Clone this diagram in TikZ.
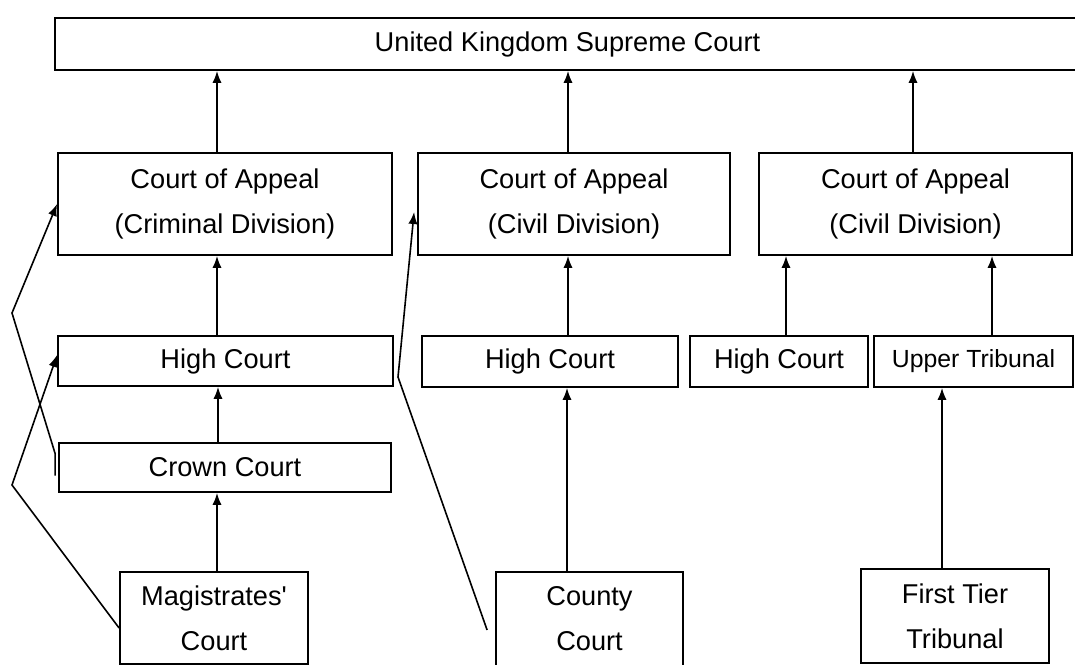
\documentclass[tikz,border=0pt]{standalone}
\usepackage{fontspec}
\setmainfont{Liberation Sans}
\usetikzlibrary{arrows.meta}
\begin{document}
\begin{tikzpicture}[x=0.5pt,y=-0.5pt,line width=0.8pt,
					court/.style = {draw, line width=0.9pt, inner sep = 0pt, align = center, font = \fontsize{13.6}{22.5}\selectfont},
					up/.style = {-{Latex[length=6pt,width=4.6pt]}}]
					
					\useasboundingbox (0,0) rectangle (1075,664);
					\fill[white] (0,0) rectangle (1075,664);
					
					\node[court, minimum width = 512.5pt, minimum height = 26pt] at (567.5,44) (sc) {United Kingdom Supreme Court};
					\node[court, minimum width = 167pt, minimum height = 51pt] at (225,204) (ca1) {Court of Appeal\\(Criminal Division)};
					\node[court, minimum width = 156pt, minimum height = 51pt] at (574,204) (ca2) {Court of Appeal\\(Civil Division)};
					\node[court, minimum width = 156.5pt, minimum height = 51pt] at (915.5,204) (ca3) {Court of Appeal\\(Civil Division)};
					\node[court, minimum width = 167.5pt, minimum height = 25pt] at (225.5,361) (hc1) {High Court};
					\node[court, minimum width = 128pt, minimum height = 25.5pt] at (550,361.5) (hc2) {High Court};
					\node[court, minimum width = 89pt, minimum height = 25.5pt] at (779,361.5) (hc3) {High Court};
					\node[court, minimum width = 99.5pt, minimum height = 25.5pt, font = \fontsize{12.4}{15}\selectfont] at (973.5,361.5) (ut) {Upper Tribunal};
					\node[court, minimum width = 166pt, minimum height = 24.5pt] at (225,467.5) (cc) {Crown Court};
					\node[court, minimum width = 94pt, minimum height = 46pt] at (214,618) (mc) {Magistrates\textquotesingle\\Court};
					\node[court, minimum width = 93.5pt, minimum height = 47pt] at (589.5,619) (co) {County\\Court};
					\node[court, minimum width = 94pt, minimum height = 47pt] at (955,616) (ft) {First Tier\\Tribunal};
					
					\coordinate (b1) at (12,313);
					\coordinate (b2) at (12,485);
					\coordinate (b3) at (398,377);
					
					% straight appeals
					\draw[up] ([xshift=-4pt]ca1.north) -- ([xshift=-4pt]ca1.north |- sc.south);
					\draw[up] ([xshift=-3pt]ca2.north) -- ([xshift=-3pt]ca2.north |- sc.south);
					\draw[up] ([xshift=-1.25pt]ca3.north) -- ([xshift=-1.25pt]ca3.north |- sc.south);
					\draw[up] ([xshift=-4.25pt]hc1.north) -- ([xshift=-4.25pt]hc1.north |- ca1.south);
					\draw[up] ([xshift=9pt]hc2.north) -- ([xshift=9pt]hc2.north |- ca2.south);
					\draw[up] ([xshift=3.5pt]hc3.north) -- ([xshift=3.5pt]hc3.north |- ca3.south);
					\draw[up] ([xshift=9.25pt]ut.north) -- ([xshift=9.25pt]ut.north |- ca3.south);
					\draw[up] ([xshift=-3.5pt]cc.north) -- ([xshift=-3.5pt]cc.north |- hc1.south);
					\draw[up] ([xshift=1.5pt]mc.north) -- ([xshift=1.5pt]mc.north |- cc.south);
					\draw[up] ([xshift=-11.25pt]co.north) -- ([xshift=-11.25pt]co.north |- hc2.south);
					\draw[up] ([xshift=-6.5pt]ft.north) -- ([xshift=-6.5pt]ft.north |- ut.south);
					
					% leapfrog appeals
					\draw[up] ([xshift=-1.5pt,yshift=-4pt]cc.west) -- ([xshift=-1.5pt,yshift=7pt]cc.west) -- (b1) -- (ca1.west);
					\draw[up] ([yshift=-5pt]mc.west) -- (b2) -- ([yshift=3pt]hc1.west);
					\draw[up] ([xshift=-4pt,yshift=-5.5pt]co.west) -- (b3) -- ([xshift=-1.5pt,yshift=-4pt]ca2.west);
					
					\end{tikzpicture}
\end{document}
